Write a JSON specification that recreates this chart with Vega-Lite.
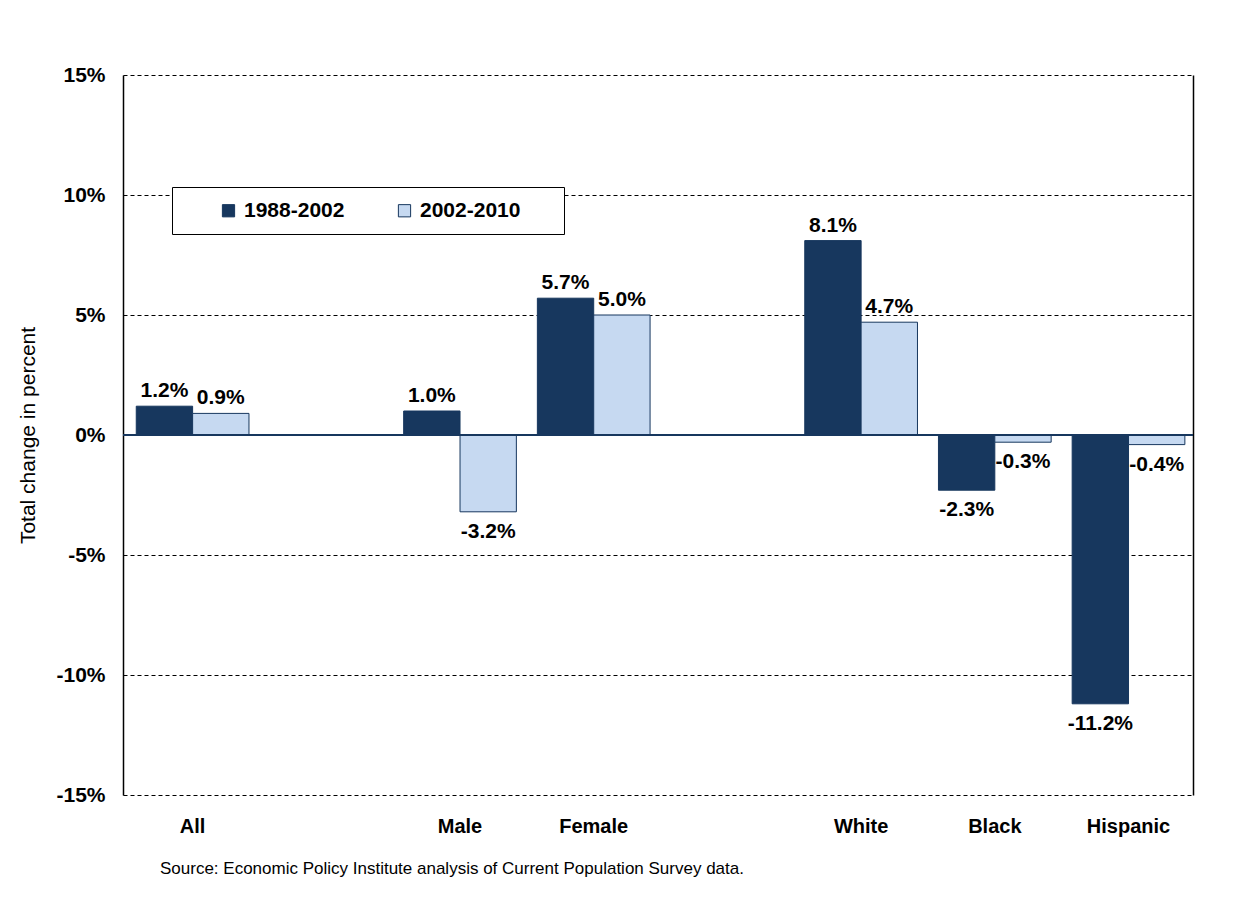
{
  "$schema": "https://vega.github.io/schema/vega-lite/v6.json",
  "width": 1070,
  "height": 720,
  "autosize": {"type": "none"},
  "padding": {"left": 123, "top": 75, "right": 55, "bottom": 102},
  "background": "white",
  "config": {
    "font": "Liberation Sans",
    "view": {"stroke": null}
  },
  "title": {
    "text": "Source: Economic Policy Institute analysis of Current Population Survey data.",
    "orient": "bottom",
    "anchor": "start",
    "frame": "group",
    "fontSize": 17,
    "fontWeight": "normal",
    "color": "black",
    "dx": 37,
    "offset": 25
  },
  "data": {
    "values": [
      {"group": "All", "series": "1988-2002", "value": 1.2, "label": "1.2%"},
      {"group": "All", "series": "2002-2010", "value": 0.9, "label": "0.9%"},
      {"group": "Male", "series": "1988-2002", "value": 1.0, "label": "1.0%"},
      {"group": "Male", "series": "2002-2010", "value": -3.2, "label": "-3.2%"},
      {"group": "Female", "series": "1988-2002", "value": 5.7, "label": "5.7%"},
      {"group": "Female", "series": "2002-2010", "value": 5.0, "label": "5.0%"},
      {"group": "White", "series": "1988-2002", "value": 8.1, "label": "8.1%"},
      {"group": "White", "series": "2002-2010", "value": 4.7, "label": "4.7%"},
      {"group": "Black", "series": "1988-2002", "value": -2.3, "label": "-2.3%"},
      {"group": "Black", "series": "2002-2010", "value": -0.3, "label": "-0.3%"},
      {"group": "Hispanic", "series": "1988-2002", "value": -11.2, "label": "-11.2%"},
      {"group": "Hispanic", "series": "2002-2010", "value": -0.4, "label": "-0.4%"}
    ]
  },
  "encoding": {
    "x": {
      "field": "group",
      "type": "nominal",
      "sort": null,
      "scale": {
        "domain": ["All", "gap1", "Male", "Female", "gap2", "White", "Black", "Hispanic"],
        "paddingInner": 0.157,
        "paddingOuter": 0.08,
        "align": 0.62
      },
      "axis": {
        "title": null,
        "domain": false,
        "ticks": false,
        "labelAngle": 0,
        "labelFontSize": 20,
        "labelFontWeight": "bold",
        "labelColor": "black",
        "labelPadding": 21,
        "labelExpr": "indexof(datum.label, 'gap') == 0 ? '' : datum.label"
      }
    },
    "xOffset": {"field": "series", "type": "nominal", "sort": ["1988-2002", "2002-2010"]}
  },
  "layer": [
    {
      "mark": {"type": "bar", "stroke": "#17375E", "strokeWidth": 1},
      "encoding": {
        "y": {
          "field": "value",
          "type": "quantitative",
          "scale": {"domain": [-15, 15], "nice": false},
          "axis": {
            "title": "Total change in percent",
            "titleFontSize": 21,
            "titleFontWeight": "normal",
            "titleColor": "black",
            "titlePadding": 17,
            "values": [-15, -10, -5, 0, 5, 10, 15],
            "labelExpr": "datum.value + '%'",
            "labelFontSize": 21,
            "labelFontWeight": "bold",
            "labelColor": "black",
            "labelPadding": 18,
            "ticks": false,
            "domainColor": "black",
            "domainWidth": 1.5,
            "grid": true,
            "gridColor": "black",
            "gridDash": [4, 3],
            "gridWidth": 1,
            "gridOpacity": 1
          }
        },
        "color": {
          "field": "series",
          "type": "nominal",
          "scale": {"domain": ["1988-2002", "2002-2010"], "range": ["#17375E", "#C6D9F1"]},
          "legend": {
            "orient": "none",
            "legendX": 49,
            "legendY": 112,
            "direction": "horizontal",
            "title": "\u00a0",
            "titleOrient": "left",
            "titlePadding": 33,
            "titleFontSize": 21,
            "strokeColor": "black",
            "fillColor": "white",
            "padding": 13,
            "symbolType": "square",
            "symbolSize": 150,
            "symbolStrokeColor": "#17375E",
            "symbolStrokeWidth": 1,
            "labelFontSize": 21,
            "labelFontWeight": "bold",
            "labelColor": "black",
            "labelOffset": 5,
            "columnPadding": 49,
            "labelExpr": "datum.label == '2002-2010' ? datum.label + '\u2800\u2800' : datum.label"
          }
        }
      }
    },
    {
      "transform": [{"filter": "datum.value >= 0"}],
      "mark": {"type": "text", "baseline": "alphabetic", "dy": -9, "fontSize": 21, "fontWeight": "bold", "color": "black"},
      "encoding": {
        "y": {"field": "value", "type": "quantitative", "axis": null},
        "text": {"field": "label"}
      }
    },
    {
      "transform": [{"filter": "datum.value < 0"}],
      "mark": {"type": "text", "baseline": "top", "dy": 9, "fontSize": 21, "fontWeight": "bold", "color": "black"},
      "encoding": {
        "y": {"field": "value", "type": "quantitative", "axis": null},
        "text": {"field": "label"}
      }
    },
    {
      "data": {"values": [{"zero": 0}]},
      "mark": {"type": "rule", "color": "#17375E", "strokeWidth": 2},
      "encoding": {
        "x": null,
        "xOffset": null,
        "y": {
          "field": "zero",
          "type": "quantitative",
          "axis": {
            "orient": "right",
            "title": null,
            "labels": false,
            "ticks": false,
            "grid": false,
            "domainColor": "black",
            "domainWidth": 1.5
          }
        }
      }
    }
  ],
  "resolve": {"axis": {"y": "independent"}}
}
